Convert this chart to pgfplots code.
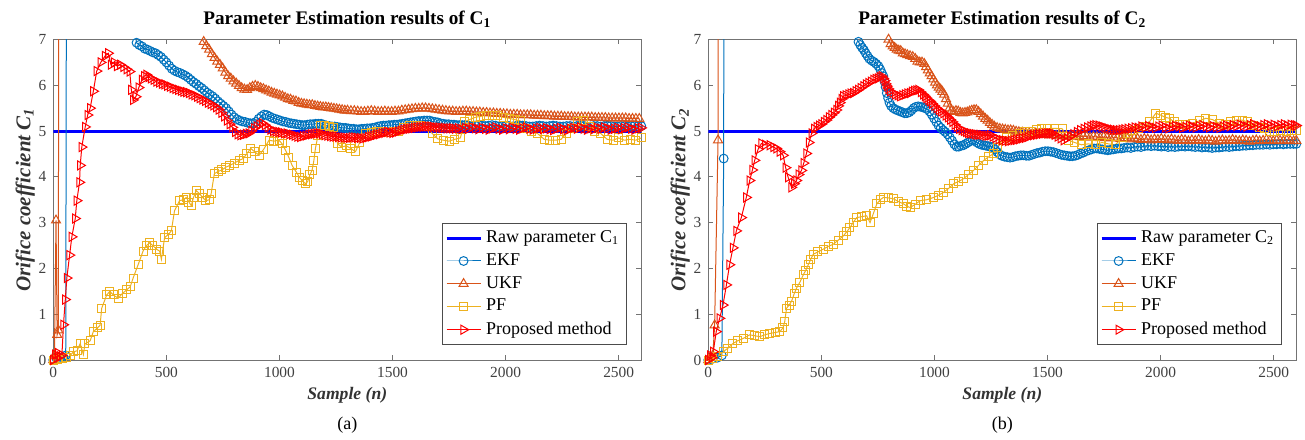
\documentclass[border=0pt]{standalone}
\usepackage{fontspec}
\setmainfont{Liberation Serif}
\usepackage{pgfplots}
\pgfplotsset{compat=1.18}

\definecolor{ekf}{rgb}{0,0.447,0.741}
\definecolor{ukf}{rgb}{0.85,0.325,0.098}
\definecolor{pf}{rgb}{0.929,0.694,0.125}

\pgfplotsset{
  estim/.style={
    scale only axis, width=294pt, height=160.25pt,
    xmin=0, xmax=2600, ymin=0, ymax=7,
    xtick={0,500,1000,1500,2000,2500}, ytick={0,1,2,3,4,5,6,7},
    tick align=inside, major tick length=2.5pt,
    axis line style={black!55, line width=0.5pt},
    every tick/.style={black!55, line width=0.5pt},
    tick label style={font=\fontsize{7.7}{8}\selectfont, text=black!75},
    /pgf/number format/assume math mode=true,
    /pgf/number format/1000 sep={},
    every axis title shift=0pt,
    title style={font=\fontsize{9.6}{10}\selectfont\bfseries, at={(0.5,1)}, anchor=base, yshift=7.5pt},
    xlabel style={font=\fontsize{8.8}{10}\selectfont\bfseries\itshape, at={(0.5,-0.109)}, anchor=center, text=black!80},
    ylabel style={font=\fontsize{10.5}{11}\selectfont\bfseries\itshape, at={(-0.0476,0.5)}, anchor=center, text=black!80},
    legend style={font=\fontsize{9}{10}\selectfont, at={(0.975,0.047)}, anchor=south east,
      draw=black!70, line width=0.5pt, inner sep=1.5pt},
    legend cell align=left,
    every axis plot/.append style={line width=0.5pt},
  },
  raw/.style={blue, line width=1.5pt},
  ekfp/.style={ekf, mark=o, mark size=2.2pt},
  ukfp/.style={ukf, mark=triangle, mark size=2.6pt},
  pfp/.style={pf, mark=square, mark size=2pt},
  prop/.style={red, mark=triangle, mark size=2.6pt, mark options={rotate=-90}},
}

\begin{document}
\begin{tikzpicture}
\useasboundingbox (-26.65pt,-39.5pt) rectangle (625.85pt,180pt);

% ---------------- (a) C1 ----------------
\begin{axis}[estim, at={(0pt,0pt)}, anchor=south west,
  title={Parameter Estimation results of C\textsubscript{1}},
  xlabel={Sample (n)}, ylabel={Orifice coefficient C\textsubscript{1}}]
\addplot[raw] coordinates {(0,5) (2600,5)};
\addlegendentry{Raw parameter C\textsubscript{1}}
% EKF
\addplot[ekfp] coordinates {
(0,0) (15,0.02) (30,0.04) (45,0.06) (55,0.1) (62,20) (100,30) (200,25) (300,12) (350,7.6)
(368,6.93) (380,6.88) (392,6.85) (404,6.8) (416,6.78) (428,6.75) (440,6.72) (452,6.7) (464,6.66)
(476,6.62) (488,6.56) (500,6.5) (512,6.43) (524,6.36) (536,6.32) (548,6.29) (560,6.27) (572,6.24)
(584,6.21) (596,6.17) (608,6.12) (620,6.07) (632,6.03) (644,5.98) (656,5.94) (668,5.89) (680,5.84)
(692,5.8) (704,5.76) (716,5.71) (728,5.65) (740,5.6) (752,5.55) (764,5.5) (776,5.43) (788,5.36)
(800,5.3) (812,5.26) (824,5.23) (836,5.21) (848,5.2) (860,5.18) (872,5.17) (884,5.17) (896,5.2)
(908,5.27) (920,5.32) (932,5.36) (944,5.35) (956,5.32) (968,5.29) (980,5.27) (992,5.25) (1004,5.23)
(1016,5.21) (1028,5.2) (1040,5.18) (1052,5.17) (1064,5.16) (1076,5.15) (1088,5.14) (1100,5.13)
(1112,5.13) (1124,5.14) (1136,5.15) (1148,5.15) (1160,5.16) (1172,5.16) (1184,5.16) (1196,5.14)
(1208,5.12) (1220,5.11) (1232,5.1) (1244,5.1) (1256,5.09) (1268,5.08) (1280,5.07) (1292,5.07)
(1304,5.06) (1316,5.05) (1328,5.05) (1340,5.04) (1352,5.04) (1364,5.05) (1376,5.05) (1388,5.06)
(1400,5.06) (1412,5.07) (1424,5.08) (1436,5.1) (1448,5.11) (1460,5.12) (1472,5.12) (1484,5.13)
(1496,5.13) (1508,5.14) (1520,5.14) (1532,5.15) (1544,5.16) (1556,5.17) (1568,5.18) (1580,5.19)
(1592,5.2) (1604,5.21) (1616,5.22) (1628,5.22) (1640,5.23) (1652,5.23) (1664,5.23) (1676,5.21)
(1688,5.2) (1700,5.19) (1712,5.17) (1724,5.16) (1736,5.15) (1748,5.15) (1760,5.14) (1772,5.14)
(1784,5.13) (1796,5.13) (1808,5.13) (1820,5.13) (1835,5.12) (1850,5.11) (1865,5.12) (1880,5.13)
(1895,5.12) (1910,5.11) (1925,5.12) (1940,5.13) (1955,5.12) (1970,5.1) (1985,5.11) (2000,5.12)
(2015,5.11) (2030,5.1) (2045,5.11) (2060,5.12) (2075,5.12) (2090,5.11) (2105,5.1) (2120,5.1)
(2135,5.11) (2150,5.12) (2165,5.11) (2180,5.1) (2195,5.11) (2210,5.12) (2225,5.11) (2240,5.1)
(2255,5.1) (2270,5.11) (2285,5.11) (2300,5.1) (2315,5.11) (2330,5.12) (2345,5.11) (2360,5.1)
(2375,5.1) (2390,5.11) (2405,5.11) (2420,5.1) (2435,5.11) (2450,5.12) (2465,5.11) (2480,5.1)
(2495,5.1) (2510,5.11) (2525,5.11) (2540,5.1) (2555,5.11) (2570,5.12) (2585,5.11) (2600,5.11)};
\addlegendentry{EKF}
% UKF
\addplot[ukfp] coordinates {
(0,0) (5,0.1) (12,3.05) (17,0.55) (22,0.65) (29,25) (200,30) (500,20) (630,7.8)
(653,7.05) (665,6.95) (677,6.86) (689,6.78) (701,6.68) (713,6.6) (725,6.52) (737,6.45) (749,6.37)
(761,6.28) (773,6.2) (785,6.15) (797,6.09) (809,6.04) (821,5.99) (833,5.94) (845,5.91) (857,5.9)
(869,5.94) (881,5.97) (893,5.99) (905,5.97) (917,5.94) (929,5.92) (941,5.89) (953,5.87) (965,5.84)
(977,5.82) (989,5.8) (1001,5.78) (1013,5.76) (1025,5.73) (1037,5.7) (1049,5.69) (1061,5.66)
(1073,5.65) (1085,5.62) (1097,5.6) (1109,5.59) (1121,5.58) (1133,5.57) (1145,5.57) (1157,5.55)
(1169,5.54) (1181,5.53) (1193,5.52) (1205,5.52) (1217,5.51) (1229,5.5) (1241,5.49) (1253,5.48)
(1265,5.47) (1277,5.46) (1289,5.45) (1301,5.45) (1316,5.44) (1331,5.44) (1346,5.43) (1361,5.42)
(1376,5.42) (1391,5.43) (1406,5.44) (1421,5.43) (1436,5.42) (1451,5.42) (1466,5.43) (1481,5.42)
(1496,5.42) (1511,5.43) (1526,5.43) (1541,5.45) (1556,5.46) (1571,5.47) (1586,5.48) (1601,5.49)
(1616,5.49) (1631,5.5) (1646,5.5) (1661,5.49) (1676,5.48) (1691,5.47) (1706,5.46) (1721,5.45)
(1736,5.44) (1751,5.43) (1766,5.43) (1781,5.42) (1796,5.42) (1811,5.43) (1826,5.43) (1841,5.42)
(1856,5.42) (1871,5.41) (1886,5.41) (1901,5.4) (1916,5.4) (1931,5.39) (1946,5.39) (1961,5.38)
(1976,5.38) (1991,5.37) (2006,5.37) (2021,5.36) (2036,5.36) (2051,5.36) (2066,5.35) (2081,5.35)
(2096,5.35) (2111,5.35) (2126,5.34) (2141,5.34) (2156,5.34) (2171,5.33) (2186,5.33) (2201,5.33)
(2216,5.32) (2231,5.32) (2246,5.32) (2261,5.31) (2276,5.31) (2291,5.31) (2306,5.3) (2321,5.3)
(2336,5.3) (2351,5.3) (2366,5.3) (2381,5.3) (2396,5.29) (2411,5.29) (2426,5.29) (2441,5.29)
(2456,5.28) (2471,5.28) (2486,5.28) (2501,5.28) (2516,5.28) (2531,5.28) (2546,5.27) (2561,5.27)
(2576,5.27) (2591,5.27)};
\addlegendentry{UKF}
% PF
\addplot[pfp] coordinates {
(0,0) (20,0.02) (40,0.03) (60,0.05) (75,0.1) (89,0.18) (105,0.2) (119,0.36) (133,0.12) (140,0.35)
(163,0.42) (177,0.62) (195,0.7) (207,0.76) (214,1.13) (236,1.42) (250,1.5) (265,1.42) (287,1.35)
(305,1.45) (324,1.53) (340,1.6) (353,1.79) (375,2.08) (397,2.38) (412,2.5) (426,2.56) (440,2.5)
(456,2.42) (470,2.38) (478,2.2) (492,2.67) (510,2.75) (522,2.82) (536,3.26) (558,3.48) (575,3.5)
(588,3.55) (600,3.45) (610,3.37) (620,3.55) (632,3.7) (647,3.63) (660,3.55) (675,3.48) (690,3.5)
(698,3.63) (712,4.07) (730,4.12) (745,4.15) (763,4.21) (780,4.25) (800,4.3) (822,4.36) (840,4.4)
(855,4.5) (873,4.62) (890,4.55) (910,4.47) (930,4.6) (954,4.8) (975,4.78) (998,4.8) (1012,4.72)
(1027,4.58) (1042,4.42) (1056,4.25) (1075,4.1) (1090,3.98) (1100,3.92) (1115,3.85) (1125,3.9)
(1135,4.05) (1144,4.14) (1152,4.35) (1159,4.62) (1170,4.9) (1181,5.13) (1200,5.12) (1220,5.1)
(1240,5.08) (1257,4.72) (1275,4.65) (1295,4.68) (1315,4.62) (1336,4.55) (1355,4.75) (1380,4.95)
(1405,4.97) (1430,4.98) (1455,5.0) (1480,4.97) (1505,4.98) (1525,5.0) (1550,5.08) (1575,5.13)
(1600,5.12) (1625,5.13) (1650,5.1) (1675,4.95) (1700,4.83) (1725,4.8) (1750,4.78) (1775,4.82)
(1800,4.85) (1818,5.2) (1840,5.25) (1865,5.3) (1890,5.32) (1915,5.35) (1940,5.33) (1965,5.35)
(1990,5.3) (2015,5.28) (2040,5.25) (2065,5.22) (2090,5.05) (2115,4.98) (2140,4.95) (2171,4.82)
(2195,4.8) (2220,4.8) (2245,4.82) (2270,4.95) (2295,5.05) (2320,5.2) (2345,5.24) (2370,5.1)
(2395,5.0) (2420,4.95) (2449,4.82) (2475,4.8) (2500,4.85) (2525,4.8) (2550,4.82) (2575,4.8) (2600,4.85)};
\addlegendentry{PF}
% Proposed
\addplot[prop] coordinates {
(0,0) (8,0.12) (15,0.05) (22,0.15) (30,0.08) (38,0.1) (45,0.77) (53,1.32) (60,1.79) (72,2.29)
(82,2.69) (97,3.09) (104,3.48) (116,3.88) (119,4.25) (126,4.65) (141,5.09) (152,5.35) (163,5.5)
(177,5.87) (192,6.31) (210,6.5) (229,6.64) (243,6.7) (255,6.45) (268,6.5) (282,6.42) (296,6.45)
(310,6.4) (325,6.35) (338,6.3) (345,5.9) (353,5.68) (365,5.75) (378,5.95) (392,6.12) (402,6.2)
(412,6.23) (422,6.18) (432,6.15) (444,6.12) (456,6.08) (468,6.06) (480,6.03) (492,6.02) (504,5.99)
(516,5.97) (528,5.94) (540,5.92) (552,5.9) (564,5.88) (576,5.86) (588,5.85) (600,5.83) (612,5.8)
(624,5.78) (636,5.75) (648,5.72) (660,5.69) (672,5.66) (684,5.62) (696,5.59) (708,5.56) (720,5.52)
(732,5.47) (744,5.4) (756,5.32) (768,5.23) (780,5.15) (792,5.08) (804,4.98) (816,4.93) (828,4.91)
(840,4.92) (852,4.94) (864,4.95) (876,5.0) (888,5.06) (900,5.1) (912,5.14) (924,5.17) (936,5.13)
(948,5.08) (960,5.03) (972,5.0) (984,4.99) (996,4.98) (1008,4.97) (1020,4.95) (1032,4.95) (1044,4.93)
(1056,4.92) (1068,4.9) (1080,4.88) (1092,4.87) (1104,4.89) (1116,4.9) (1128,4.92) (1140,4.93)
(1152,4.94) (1164,4.95) (1176,4.95) (1188,4.93) (1200,4.91) (1212,4.9) (1224,4.89) (1236,4.88)
(1248,4.88) (1260,4.87) (1272,4.86) (1284,4.86) (1296,4.85) (1308,4.85) (1320,4.86) (1332,4.86)
(1344,4.85) (1356,4.85) (1368,4.84) (1380,4.85) (1392,4.87) (1404,4.88) (1416,4.9) (1428,4.92)
(1440,4.93) (1452,4.95) (1464,4.96) (1476,4.98) (1488,4.97) (1500,4.96) (1512,4.97) (1524,4.99)
(1536,5.01) (1548,5.03) (1560,5.04) (1572,5.05) (1584,5.06) (1596,5.07) (1608,5.08) (1620,5.09)
(1632,5.09) (1644,5.1) (1656,5.1) (1668,5.1) (1680,5.09) (1692,5.08) (1704,5.08) (1716,5.07)
(1728,5.07) (1740,5.06) (1752,5.06) (1764,5.06) (1776,5.05) (1790,5.06) (1805,5.04) (1820,5.07)
(1835,5.05) (1850,5.08) (1865,5.06) (1880,5.04) (1895,5.07) (1910,5.05) (1925,5.03) (1940,5.06)
(1955,5.08) (1970,5.05) (1985,5.03) (2000,5.06) (2015,5.04) (2030,5.07) (2045,5.05) (2060,5.03)
(2075,5.06) (2090,5.08) (2105,5.05) (2120,5.03) (2135,5.05) (2150,5.07) (2165,5.04) (2180,5.06)
(2195,5.04) (2210,5.02) (2225,5.05) (2240,5.07) (2255,5.04) (2270,5.02) (2285,5.05) (2300,5.07)
(2315,5.05) (2330,5.08) (2345,5.05) (2360,5.03) (2375,5.06) (2390,5.04) (2405,5.07) (2420,5.05)
(2435,5.08) (2450,5.06) (2465,5.03) (2480,5.05) (2495,5.07) (2510,5.04) (2525,5.06) (2540,5.08)
(2555,5.05) (2570,5.03) (2585,5.06) (2600,5.07)};
\addlegendentry{Proposed method}
\end{axis}

% ---------------- (b) C2 ----------------
\begin{axis}[estim, at={(327.5pt,0pt)}, anchor=south west,
  title={Parameter Estimation results of C\textsubscript{2}},
  xlabel={Sample (n)}, ylabel={Orifice coefficient C\textsubscript{2}}]
\addplot[raw] coordinates {(0,5) (2600,5)};
\addlegendentry{Raw parameter C\textsubscript{2}}
% EKF
\addplot[ekfp] coordinates {
(0,0) (20,0.03) (40,0.05) (60,0.1) (68,4.4) (73,30) (300,30) (600,12) (640,7.5)
(656,7.02) (664,6.95) (672,6.88) (680,6.82) (688,6.77) (696,6.7) (704,6.64) (712,6.58) (722,6.54)
(732,6.51) (742,6.47) (752,6.42) (760,6.35) (767,6.27) (774,6.2) (779,6.08) (784,5.96) (789,5.83)
(795,5.72) (801,5.62) (808,5.55) (818,5.5) (828,5.47) (838,5.45) (848,5.43) (858,5.41) (868,5.39)
(878,5.39) (888,5.41) (898,5.45) (908,5.5) (918,5.53) (928,5.54) (938,5.53) (948,5.52) (958,5.5)
(968,5.48) (978,5.43) (988,5.36) (998,5.28) (1008,5.2) (1018,5.12) (1028,5.07) (1038,5.02)
(1048,4.98) (1058,4.93) (1068,4.86) (1078,4.79) (1088,4.71) (1098,4.66) (1108,4.66) (1118,4.68)
(1128,4.69) (1138,4.72) (1148,4.75) (1158,4.78) (1168,4.8) (1178,4.79) (1188,4.75) (1198,4.72)
(1208,4.7) (1218,4.69) (1228,4.68) (1238,4.67) (1248,4.66) (1258,4.65) (1268,4.6) (1278,4.54)
(1288,4.49) (1298,4.46) (1310,4.44) (1322,4.43) (1334,4.42) (1346,4.43) (1358,4.45) (1370,4.46)
(1382,4.47) (1394,4.47) (1406,4.46) (1418,4.46) (1430,4.48) (1442,4.5) (1454,4.52) (1466,4.53)
(1478,4.55) (1490,4.56) (1502,4.56) (1514,4.55) (1526,4.54) (1538,4.52) (1550,4.5) (1562,4.48)
(1574,4.47) (1586,4.46) (1598,4.45) (1610,4.45) (1622,4.46) (1634,4.48) (1646,4.51) (1658,4.53)
(1670,4.56) (1682,4.58) (1694,4.6) (1706,4.62) (1718,4.62) (1730,4.61) (1742,4.6) (1754,4.59)
(1766,4.58) (1778,4.59) (1790,4.6) (1802,4.61) (1814,4.62) (1826,4.62) (1838,4.63) (1853,4.64)
(1868,4.63) (1883,4.65) (1898,4.66) (1913,4.65) (1928,4.67) (1943,4.68) (1958,4.67) (1973,4.68)
(1988,4.67) (2003,4.66) (2018,4.67) (2033,4.65) (2048,4.66) (2063,4.65) (2078,4.66) (2093,4.67)
(2108,4.66) (2123,4.67) (2138,4.66) (2153,4.65) (2168,4.66) (2183,4.64) (2198,4.65) (2213,4.64)
(2228,4.63) (2243,4.64) (2258,4.64) (2273,4.65) (2288,4.66) (2303,4.65) (2318,4.66) (2333,4.67)
(2348,4.67) (2363,4.68) (2378,4.68) (2393,4.69) (2408,4.69) (2423,4.7) (2438,4.7) (2453,4.7)
(2468,4.71) (2483,4.7) (2498,4.71) (2513,4.71) (2528,4.72) (2543,4.71) (2558,4.72) (2573,4.72)
(2588,4.72) (2600,4.72)};
\addlegendentry{EKF}
% UKF
\addplot[ukfp] coordinates {
(0,0) (10,0.05) (20,0.1) (28,0.76) (43,4.8) (50,30) (400,30) (760,8) (785,7.3)
(797,7.0) (806,6.9) (815,6.85) (824,6.82) (833,6.78) (842,6.76) (851,6.75) (860,6.7) (870,6.68)
(880,6.66) (892,6.64) (904,6.62) (915,6.58) (925,6.52) (935,6.5) (945,6.5) (955,6.47) (963,6.4)
(971,6.33) (979,6.26) (987,6.2) (995,6.13) (1003,6.06) (1011,6.0) (1019,5.95) (1027,5.91) (1035,5.86)
(1043,5.8) (1051,5.7) (1059,5.6) (1067,5.5) (1075,5.44) (1085,5.42) (1095,5.44) (1105,5.43)
(1115,5.4) (1125,5.39) (1135,5.4) (1145,5.41) (1155,5.43) (1165,5.45) (1175,5.46) (1185,5.46)
(1195,5.42) (1205,5.37) (1215,5.32) (1225,5.27) (1235,5.23) (1245,5.18) (1255,5.14) (1265,5.1)
(1277,5.07) (1289,5.05) (1301,5.04) (1313,5.03) (1325,5.02) (1337,5.02) (1349,5.01) (1361,4.99)
(1373,4.98) (1388,4.97) (1403,4.95) (1418,4.96) (1433,4.94) (1448,4.95) (1463,4.93) (1478,4.92)
(1493,4.93) (1508,4.91) (1523,4.92) (1538,4.9) (1553,4.91) (1568,4.89) (1583,4.9) (1598,4.88)
(1613,4.9) (1628,4.89) (1643,4.87) (1658,4.89) (1673,4.88) (1688,4.86) (1703,4.88) (1718,4.87)
(1733,4.85) (1748,4.87) (1763,4.86) (1778,4.84) (1793,4.86) (1808,4.85) (1823,4.83) (1838,4.85)
(1853,4.84) (1868,4.82) (1883,4.84) (1898,4.83) (1913,4.81) (1928,4.83) (1943,4.82) (1958,4.8)
(1973,4.82) (1988,4.81) (2003,4.83) (2018,4.81) (2033,4.8) (2048,4.82) (2063,4.8) (2078,4.79)
(2093,4.81) (2108,4.8) (2123,4.78) (2138,4.8) (2153,4.79) (2168,4.81) (2183,4.79) (2198,4.78)
(2213,4.8) (2228,4.79) (2243,4.77) (2258,4.79) (2273,4.8) (2288,4.78) (2303,4.79) (2318,4.81)
(2333,4.79) (2348,4.78) (2363,4.8) (2378,4.79) (2393,4.77) (2408,4.79) (2423,4.8) (2438,4.78)
(2453,4.79) (2468,4.81) (2483,4.79) (2498,4.78) (2513,4.8) (2528,4.79) (2543,4.78) (2558,4.8)
(2573,4.79) (2588,4.78) (2600,4.79)};
\addlegendentry{UKF}
% PF
\addplot[pfp] coordinates {
(0,0) (20,0.03) (40,0.08) (65,0.18) (85,0.25) (109,0.36) (130,0.42) (154,0.47) (183,0.55) (205,0.53)
(228,0.51) (250,0.55) (272,0.58) (295,0.6) (316,0.62) (330,0.7) (338,0.84) (346,1.13) (357,1.2)
(368,1.28) (380,1.45) (390,1.57) (405,1.7) (420,1.86) (430,1.95) (442,2.08) (453,2.2) (464,2.31)
(485,2.36) (508,2.42) (530,2.48) (553,2.53) (575,2.62) (597,2.71) (612,2.8) (626,2.89) (640,3.0)
(656,3.11) (678,3.13) (700,3.15) (715,3.0) (730,3.2) (745,3.41) (760,3.5) (774,3.55) (797,3.54)
(819,3.52) (841,3.46) (863,3.41) (878,3.36) (892,3.33) (915,3.4) (937,3.48) (966,3.5) (996,3.55)
(1018,3.6) (1040,3.66) (1063,3.75) (1085,3.85) (1107,3.9) (1129,3.96) (1150,4.05) (1173,4.14)
(1195,4.25) (1218,4.36) (1240,4.44) (1262,4.51) (1280,4.65) (1299,4.8) (1320,4.85) (1345,4.9)
(1374,4.95) (1400,4.98) (1425,5.0) (1450,5.04) (1475,5.06) (1500,5.05) (1530,5.06) (1565,5.05)
(1594,4.8) (1620,4.75) (1650,4.7) (1680,4.72) (1710,4.7) (1740,4.75) (1770,4.72) (1800,4.7)
(1830,4.85) (1855,4.95) (1875,5.02) (1900,5.05) (1925,5.1) (1950,5.2) (1979,5.39) (2000,5.35)
(2020,5.3) (2038,5.28) (2060,5.2) (2085,5.15) (2112,5.15) (2140,5.17) (2170,5.22) (2200,5.28)
(2230,5.25) (2259,5.17) (2285,5.15) (2310,5.2) (2335,5.24) (2360,5.24) (2385,5.2) (2410,5.12)
(2435,5.08) (2460,5.05) (2480,5.0) (2505,5.0) (2530,5.02) (2555,5.0) (2580,5.02) (2600,5.02)};
\addlegendentry{PF}
% Proposed
\addplot[prop] coordinates {
(0,0) (8,0.1) (15,0.05) (22,0.18) (35,0.62) (50,0.91) (65,1.2) (80,1.64) (94,2.08) (109,2.45)
(124,2.82) (146,3.11) (168,3.55) (183,3.92) (195,4.15) (205,4.36) (220,4.6) (235,4.73) (252,4.7)
(272,4.69) (288,4.65) (301,4.62) (316,4.55) (331,4.47) (342,4.2) (353,3.99) (368,3.77) (380,3.85)
(390,3.92) (400,4.05) (412,4.14) (422,4.3) (434,4.51) (445,4.75) (457,4.95) (468,5.05) (479,5.09)
(490,5.12) (500,5.15) (511,5.2) (523,5.24) (534,5.3) (545,5.35) (556,5.4) (567,5.46) (575,5.55)
(582,5.62) (590,5.7) (597,5.76) (608,5.78) (620,5.8) (630,5.82) (641,5.83) (652,5.87) (663,5.9)
(674,5.94) (686,5.98) (697,6.02) (708,6.05) (719,6.08) (730,6.12) (740,6.14) (750,6.15) (758,6.18)
(767,6.2) (774,6.15) (780,6.1) (785,6.03) (790,5.98) (797,5.92) (804,5.87) (815,5.83) (826,5.8)
(837,5.78) (848,5.76) (859,5.78) (870,5.8) (881,5.82) (892,5.83) (901,5.86) (910,5.88) (920,5.89)
(929,5.9) (940,5.85) (950,5.8) (958,5.76) (965,5.72) (973,5.68) (981,5.65) (990,5.6) (1000,5.55)
(1010,5.5) (1020,5.46) (1030,5.43) (1040,5.39) (1050,5.34) (1060,5.3) (1070,5.25) (1080,5.2)
(1090,5.14) (1099,5.09) (1110,5.05) (1120,5.02) (1130,5.0) (1140,4.98) (1149,4.96) (1158,4.95)
(1169,4.94) (1180,4.93) (1190,4.92) (1200,4.92) (1212,4.91) (1225,4.9) (1236,4.9) (1247,4.91)
(1258,4.88) (1270,4.85) (1284,4.82) (1299,4.8) (1312,4.79) (1325,4.78) (1337,4.79) (1350,4.8)
(1362,4.81) (1374,4.82) (1387,4.84) (1400,4.85) (1412,4.87) (1425,4.9) (1437,4.91) (1450,4.92)
(1462,4.93) (1475,4.94) (1487,4.95) (1500,4.95) (1510,4.95) (1520,4.95) (1532,4.92) (1545,4.88)
(1558,4.84) (1572,4.8) (1586,4.84) (1600,4.88) (1615,4.93) (1630,4.98) (1645,5.02) (1660,5.05)
(1675,5.08) (1690,5.1) (1701,5.12) (1712,5.13) (1726,5.12) (1740,5.1) (1752,5.08) (1765,5.06)
(1778,5.04) (1790,5.03) (1803,5.02) (1816,5.02) (1828,5.03) (1840,5.04) (1855,5.05) (1870,5.06)
(1885,5.08) (1900,5.07) (1915,5.1) (1930,5.08) (1945,5.11) (1960,5.09) (1975,5.07) (1990,5.1)
(2005,5.12) (2020,5.08) (2035,5.06) (2050,5.09) (2065,5.11) (2080,5.1) (2095,5.07) (2110,5.09)
(2125,5.12) (2140,5.1) (2155,5.08) (2170,5.11) (2185,5.13) (2200,5.1) (2215,5.08) (2230,5.11)
(2245,5.09) (2260,5.07) (2275,5.1) (2290,5.12) (2305,5.1) (2320,5.13) (2335,5.11) (2350,5.14)
(2365,5.12) (2380,5.1) (2395,5.13) (2410,5.15) (2425,5.12) (2440,5.1) (2455,5.13) (2470,5.15)
(2485,5.12) (2500,5.14) (2515,5.11) (2530,5.13) (2545,5.15) (2560,5.12) (2575,5.14) (2590,5.13)
(2600,5.12)};
\addlegendentry{Proposed method}
\end{axis}

\node[font=\fontsize{9}{10}\selectfont] at (147pt,-32.5pt) {(a)};
\node[font=\fontsize{9}{10}\selectfont] at (474.5pt,-32.5pt) {(b)};
\end{tikzpicture}
\end{document}
